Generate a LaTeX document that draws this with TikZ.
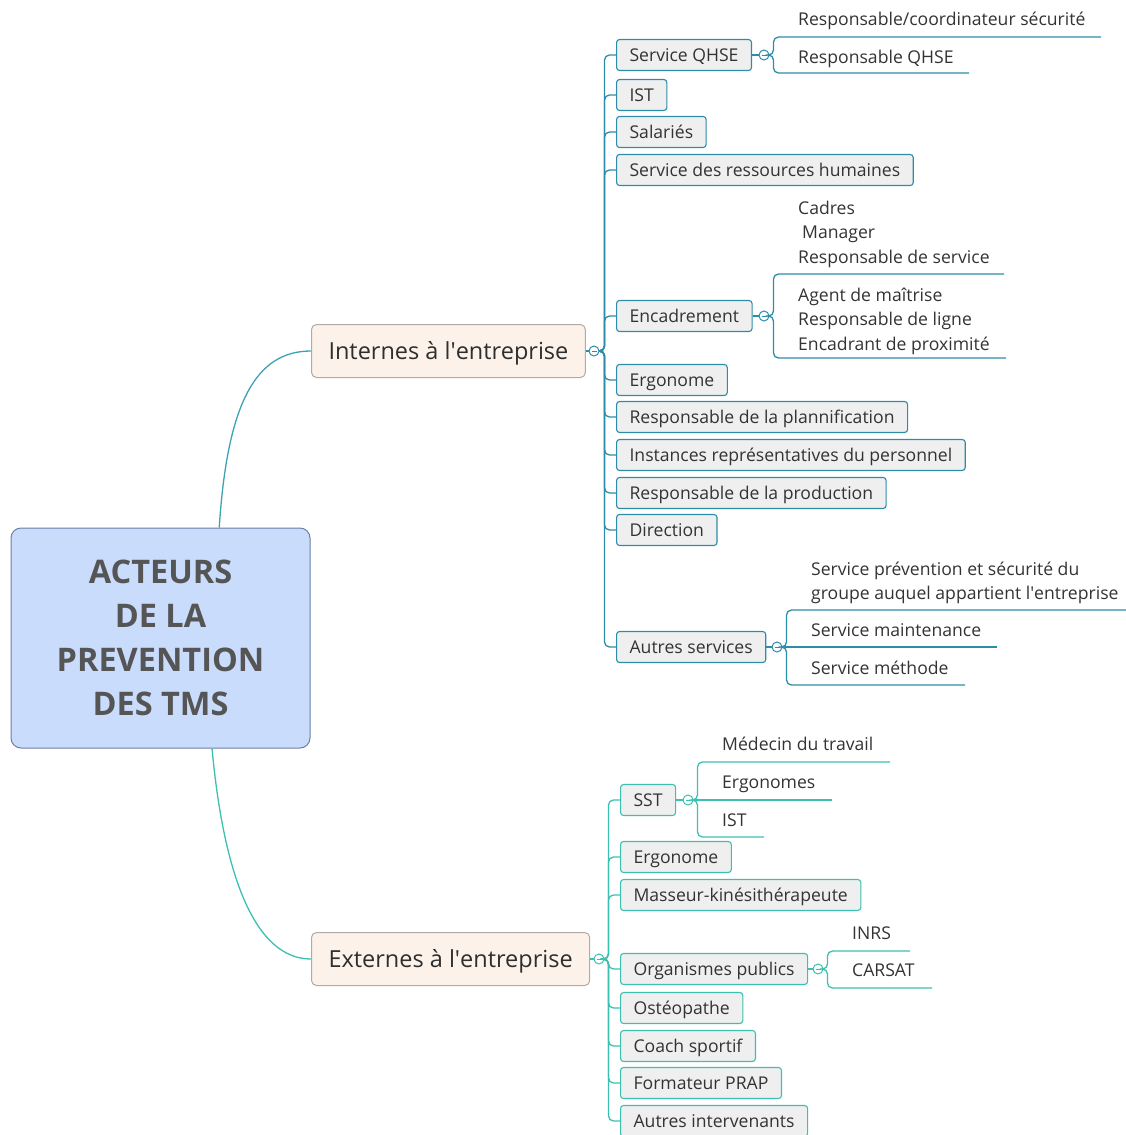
\documentclass[tikz,border=0pt]{standalone}
\usepackage{fontspec}
\setmainfont{Open Sans}
\definecolor{topc}{RGB}{45,140,168}
\definecolor{botc}{RGB}{60,192,176}
\definecolor{cinc}{RGB}{60,162,182}
\definecolor{boxf}{RGB}{239,239,239}
\definecolor{brf}{RGB}{253,242,233}
\definecolor{brd}{RGB}{178,170,163}
\definecolor{cenf}{RGB}{201,220,252}
\definecolor{cend}{RGB}{107,128,166}
\definecolor{txtc}{RGB}{51,51,51}
\definecolor{centxt}{RGB}{85,85,85}
\newcommand{\apos}{\textquotesingle}
\begin{document}
\begin{tikzpicture}[x=1pt,y=-1pt,
  txt/.style={text=txtc, font=\fontsize{17.6}{24.5}\selectfont},
  cbox/.style={draw=#1, fill=boxf, rounded corners=3pt, line width=1.1pt, anchor=west,
     minimum height=31pt, inner xsep=13pt, text height=12.5pt, text depth=0pt, txt},
  leaftxt/.style={anchor=west, inner sep=0pt, align=left, txt},
  one/.style={text height=12.5pt, text depth=0pt},
  tog/.style={circle, draw=#1, fill=white, minimum size=10pt, inner sep=0pt, line width=1pt,
     path picture={\draw[#1, line width=0.8pt] ([xshift=-2.5pt]path picture bounding box.center) -- ([xshift=2.5pt]path picture bounding box.center);}},
  topl/.style={draw=topc, line width=1.3pt, rounded corners=5pt},
  botl/.style={draw=botc, line width=1.3pt, rounded corners=5pt},
  branch/.style={draw=brd, fill=brf, rounded corners=5pt, line width=1pt, anchor=west,
     minimum height=53pt, inner xsep=17pt, text=txtc!90!black, font=\fontsize{23.5}{28}\selectfont,
     text height=16.8pt, text depth=0pt}
]
\useasboundingbox (0,0) rectangle (1126,1135);

% centre
\node[draw=cend, fill=cenf, rounded corners=10pt, line width=1pt, minimum width=299pt, minimum height=220pt,
  align=center, text=centxt, font=\fontsize{32.5}{44}\selectfont\bfseries] (cen) at (160.5,638)
  {ACTEURS\\DE LA\\PREVENTION\\DES TMS};

% branches
\node[branch] (int) at (311,351) {Internes à l\apos entreprise};
\node[branch] (ext) at (311,959) {Externes à l\apos entreprise};
\draw[cinc, line width=1.3pt] (cen.62) .. controls +(8,-125) and +(-55,0) .. (int.west);
\draw[botc, line width=1.3pt] (cen.-65) .. controls +(12,130) and +(-55,0) .. (ext.west);

% toggles of branches
\node[tog=topc] (intT) at (594,351) {};
\node[tog=botc] (extT) at (599,959) {};
\draw[topc, line width=1.2pt] (int.east) -- (intT.west);
\draw[botc, line width=1.2pt] (ext.east) -- (extT.west);

% internal children
\node[cbox=topc] (qhse) at (616,55) {Service QHSE};
\node[cbox=topc] (ist) at (616,95) {IST};
\node[cbox=topc] (sal) at (616,132) {Salariés};
\node[cbox=topc] (rh) at (616,170) {Service des ressources humaines};
\node[cbox=topc] (enc) at (616,316) {Encadrement};
\node[cbox=topc] (erg) at (616,380) {Ergonome};
\node[cbox=topc] (pla) at (616,417) {Responsable de la plannification};
\node[cbox=topc] (irp) at (616,455) {Instances représentatives du personnel};
\node[cbox=topc] (prod) at (616,493) {Responsable de la production};
\node[cbox=topc] (dir) at (616,530) {Direction};
\node[cbox=topc] (aut) at (616,647) {Autres services};
\foreach \c in {qhse,ist,sal,rh,enc,erg,pla,irp,prod,dir,aut}
  \draw[topl] (intT.east) -- ++(5,0) |- (\c.west);

% QHSE leaves
\node[tog=topc] (qT) at (764,55) {};
\draw[topc, line width=1.2pt] (qhse.east) -- (qT.west);
\coordinate (qL1e) at (1101,37);
\coordinate (qL2e) at (969,73);
\draw[topl] (qT.east) -- ++(4,0) |- (qL1e);
\draw[topl] (qT.east) -- ++(4,0) |- (qL2e);
\node[leaftxt, one] (q1) at (798,19) {Responsable/coordinateur sécurité};
\node[leaftxt, one] (q2) at (798,57) {Responsable QHSE};

% Encadrement leaves
\node[tog=topc] (eT) at (764,316) {};
\draw[topc, line width=1.2pt] (enc.east) -- (eT.west);
\coordinate (eL1e) at (1004,274);
\coordinate (eL2e) at (1006,358);
\draw[topl] (eT.east) -- ++(4,0) |- (eL1e);
\draw[topl] (eT.east) -- ++(4,0) |- (eL2e);
\node[leaftxt] (e1) at (798,234) {Cadres\\\hspace*{4pt}Manager\\Responsable de service};
\node[leaftxt] (e2) at (798,321) {Agent de maîtrise\\Responsable de ligne\\Encadrant de proximité};

% Autres services leaves
\node[tog=topc] (aT) at (777,647) {};
\draw[topc, line width=1.2pt] (aut.east) -- (aT.west);
\coordinate (aL1e) at (1126,610);
\coordinate (aL2e) at (997,647);
\coordinate (aL3e) at (965,685);
\draw[topl] (aT.east) -- ++(4,0) |- (aL1e);
\draw[topl] (aT.east) -- (aL2e);
\draw[topl] (aT.east) -- ++(4,0) |- (aL3e);
\node[leaftxt] (a1) at (811,583) {Service prévention et sécurité du\\groupe auquel appartient l\apos entreprise};
\node[leaftxt, one] (a2) at (811,630) {Service maintenance};
\node[leaftxt, one] (a3) at (811,668) {Service méthode};

% external children
\node[cbox=botc] (sst) at (620,800) {SST};
\node[cbox=botc] (erg2) at (620,857) {Ergonome};
\node[cbox=botc] (mas) at (620,895) {Masseur-kinésithérapeute};
\node[cbox=botc] (org) at (620,969) {Organismes publics};
\node[cbox=botc] (ost) at (620,1008) {Ostéopathe};
\node[cbox=botc] (coa) at (620,1046) {Coach sportif};
\node[cbox=botc] (for) at (620,1083) {Formateur PRAP};
\node[cbox=botc] (ain) at (620,1121) {Autres intervenants};
\foreach \c in {sst,erg2,mas,org,ost,coa,for,ain}
  \draw[botl] (extT.east) -- ++(4,0) |- (\c.west);

% SST leaves
\node[tog=botc] (sT) at (688,800) {};
\draw[botc, line width=1.2pt] (sst.east) -- (sT.west);
\coordinate (sL1e) at (890,762);
\coordinate (sL2e) at (832,800);
\coordinate (sL3e) at (764,837);
\draw[botl] (sT.east) -- ++(4,0) |- (sL1e);
\draw[botl] (sT.east) -- (sL2e);
\draw[botl] (sT.east) -- ++(4,0) |- (sL3e);
\node[leaftxt, one] (s1) at (722,744) {Médecin du travail};
\node[leaftxt, one] (s2) at (722,782) {Ergonomes};
\node[leaftxt, one] (s3) at (722,820) {IST};

% Organismes publics leaves
\node[tog=botc] (oT) at (818,969) {};
\draw[botc, line width=1.2pt] (org.east) -- (oT.west);
\coordinate (oL1e) at (910,951);
\coordinate (oL2e) at (932,988);
\draw[botl] (oT.east) -- ++(4,0) |- (oL1e);
\draw[botl] (oT.east) -- ++(4,0) |- (oL2e);
\node[leaftxt, one] (o1) at (852,933) {INRS};
\node[leaftxt, one] (o2) at (852,970) {CARSAT};
\end{tikzpicture}
\end{document}
